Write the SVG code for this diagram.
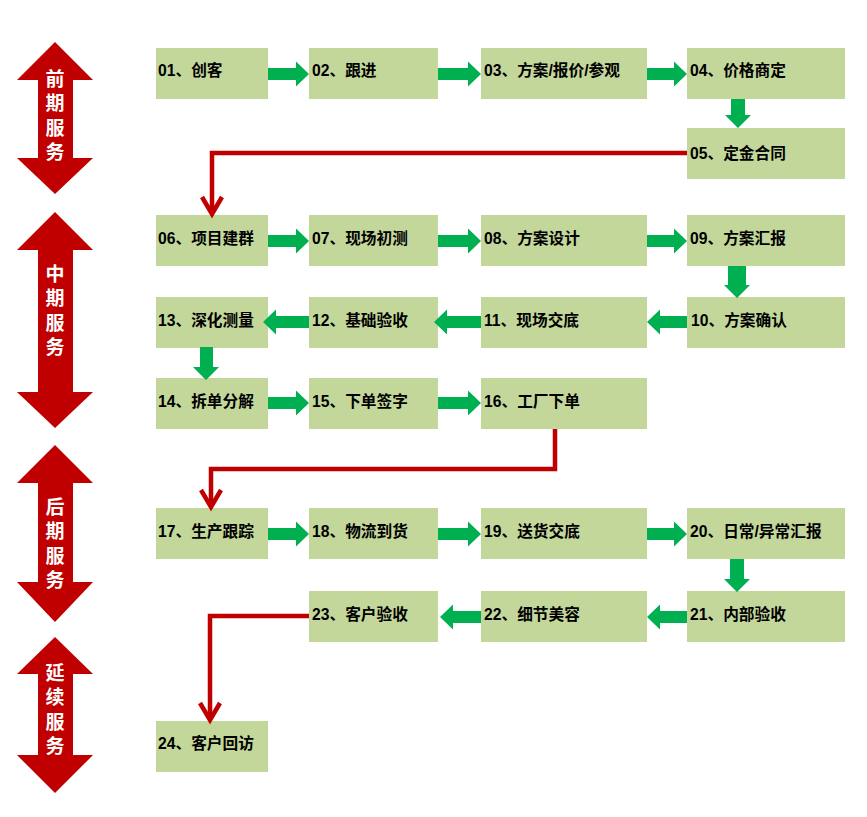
<svg xmlns="http://www.w3.org/2000/svg" width="867" height="817" viewBox="0 0 867 817">
<style>
.box{fill:#C4D79B}
.lbl{font-family:"Liberation Sans","Noto Sans CJK SC",sans-serif;font-size:15.7px;font-weight:bold;fill:#000;dominant-baseline:central}
.side{fill:#C00000}
.stxt{font-family:"Noto Sans CJK SC","Liberation Sans",sans-serif;font-size:19px;font-weight:bold;fill:#fff;text-anchor:middle;writing-mode:vertical-rl;letter-spacing:5.3px}
.g{fill:#00B050}
.r{fill:none;stroke:#C00000;stroke-width:4.5}
</style>
<rect width="867" height="817" fill="#fff"/>
<g id="phase1"><polygon class="side" points="55,42 93,80 73,80 73,158 93,158 55,194 17,158 38,158 38,80 17,80"/>
<text class="stxt" x="55" y="118">前期服务</text></g>
<g id="phase2"><polygon class="side" points="55,212 93,250 73,250 73,392 93,392 55,428 17,392 38,392 38,250 17,250"/>
<text class="stxt" x="55" y="313">中期服务</text></g>
<g id="phase3"><polygon class="side" points="55,445 93,483 73,483 73,582 93,582 55,622 17,582 38,582 38,483 17,483"/>
<text class="stxt" x="55" y="546">后期服务</text></g>
<g id="phase4"><polygon class="side" points="55,637 93,674 73,674 73,755 93,755 55,793 17,755 38,755 38,674 17,674"/>
<text class="stxt" x="55" y="712">延续服务</text></g>

<g id="n01"><rect class="box" x="156" y="48" width="112" height="51"/><text class="lbl" x="158" y="70.5">01、创客</text></g>
<g id="n02"><rect class="box" x="309" y="48" width="129" height="51"/><text class="lbl" x="312" y="70.5">02、跟进</text></g>
<g id="n03"><rect class="box" x="481" y="48" width="166" height="51"/><text class="lbl" x="484" y="70.5">03、方案/报价/参观</text></g>
<g id="n04"><rect class="box" x="687" y="48" width="158" height="51"/><text class="lbl" x="690" y="70.5">04、价格商定</text></g>
<g id="n05"><rect class="box" x="687" y="128" width="158" height="51"/><text class="lbl" x="690" y="153">05、定金合同</text></g>
<g id="n06"><rect class="box" x="156" y="215" width="112" height="51"/><text class="lbl" x="158" y="238">06、项目建群</text></g>
<g id="n07"><rect class="box" x="309" y="215" width="129" height="51"/><text class="lbl" x="312" y="238">07、现场初测</text></g>
<g id="n08"><rect class="box" x="481" y="215" width="166" height="51"/><text class="lbl" x="484" y="238">08、方案设计</text></g>
<g id="n09"><rect class="box" x="687" y="215" width="158" height="51"/><text class="lbl" x="690" y="238">09、方案汇报</text></g>
<g id="n10"><rect class="box" x="687" y="297" width="158" height="51"/><text class="lbl" x="691" y="320">10、方案确认</text></g>
<g id="n11"><rect class="box" x="481" y="297" width="166" height="51"/><text class="lbl" x="484" y="320">11、现场交底</text></g>
<g id="n12"><rect class="box" x="309" y="297" width="129" height="51"/><text class="lbl" x="312" y="320">12、基础验收</text></g>
<g id="n13"><rect class="box" x="156" y="297" width="112" height="51"/><text class="lbl" x="158" y="320">13、深化测量</text></g>
<g id="n14"><rect class="box" x="156" y="378" width="112" height="51"/><text class="lbl" x="158" y="401">14、拆单分解</text></g>
<g id="n15"><rect class="box" x="309" y="378" width="129" height="51"/><text class="lbl" x="312" y="401">15、下单签字</text></g>
<g id="n16"><rect class="box" x="481" y="378" width="166" height="51"/><text class="lbl" x="484" y="401">16、工厂下单</text></g>
<g id="n17"><rect class="box" x="156" y="508" width="112" height="51"/><text class="lbl" x="158" y="531">17、生产跟踪</text></g>
<g id="n18"><rect class="box" x="309" y="508" width="129" height="51"/><text class="lbl" x="312" y="531">18、物流到货</text></g>
<g id="n19"><rect class="box" x="481" y="508" width="166" height="51"/><text class="lbl" x="484" y="531">19、送货交底</text></g>
<g id="n20"><rect class="box" x="687" y="508" width="158" height="51"/><text class="lbl" x="690" y="531">20、日常/异常汇报</text></g>
<g id="n21"><rect class="box" x="687" y="591" width="158" height="51"/><text class="lbl" x="690" y="614">21、内部验收</text></g>
<g id="n22"><rect class="box" x="481" y="591" width="166" height="51"/><text class="lbl" x="484" y="614">22、细节美容</text></g>
<g id="n23"><rect class="box" x="309" y="591" width="129" height="51"/><text class="lbl" x="312" y="614">23、客户验收</text></g>
<g id="n24"><rect class="box" x="156" y="721" width="112" height="51"/><text class="lbl" x="158" y="743">24、客户回访</text></g>

<g id="connectors">
<polygon class="g" points="268,68 296,68 296,61.5 309,74 296,86.5 296,80 268,80"/>
<polygon class="g" points="438,68 468,68 468,61.5 481,74 468,86.5 468,80 438,80"/>
<polygon class="g" points="647,68 674,68 674,61.5 687,74 674,86.5 674,80 647,80"/>
<polygon class="g" points="731,99 745,99 745,115 751,115 738,128 725,115 731,115"/>
<polygon class="g" points="268,235 296,235 296,228.5 309,241 296,253.5 296,247 268,247"/>
<polygon class="g" points="438,235 468,235 468,228.5 481,241 468,253.5 468,247 438,247"/>
<polygon class="g" points="647,235 674,235 674,228.5 687,241 674,253.5 674,247 647,247"/>
<polygon class="g" points="728,266 746,266 746,285 750,285 737,298 724,285 728,285"/>
<polygon class="g" points="687,316 660,316 660,309.5 647,322 660,334.5 660,328 687,328"/>
<polygon class="g" points="481,316 447,316 447,309.5 434,322 447,334.5 447,328 481,328"/>
<polygon class="g" points="309,316 276,316 276,309.5 263,322 276,334.5 276,328 309,328"/>
<polygon class="g" points="200,347 213,347 213,367 219,367 206,380 193,367 200,367"/>
<polygon class="g" points="268,397 296,397 296,390.5 309,403 296,415.5 296,409 268,409"/>
<polygon class="g" points="438,397 468,397 468,390.5 481,403 468,415.5 468,409 438,409"/>
<polygon class="g" points="268,528 296,528 296,521.5 309,534 296,546.5 296,540 268,540"/>
<polygon class="g" points="438,528 468,528 468,521.5 481,534 468,546.5 468,540 438,540"/>
<polygon class="g" points="647,528 674,528 674,521.5 687,534 674,546.5 674,540 647,540"/>
<polygon class="g" points="730,559 744,559 744,579 750,579 737,592 724,579 730,579"/>
<polygon class="g" points="687,611 660,611 660,604.5 647,617 660,629.5 660,623 687,623"/>
<polygon class="g" points="481,611 453,611 453,604.5 440,617 453,629.5 453,623 481,623"/>
<polyline class="r" points="687,153 212,153 212,213"/>
<polyline class="r" points="202,197 212,214 222,197"/>
<polyline class="r" points="555,429 555,469 211,469 211,506"/>
<polyline class="r" points="201,490 211,507 221,490"/>
<polyline class="r" points="309,616 210,616 210,719"/>
<polyline class="r" points="200,703 210,720 220,703"/>
</g>
</svg>
